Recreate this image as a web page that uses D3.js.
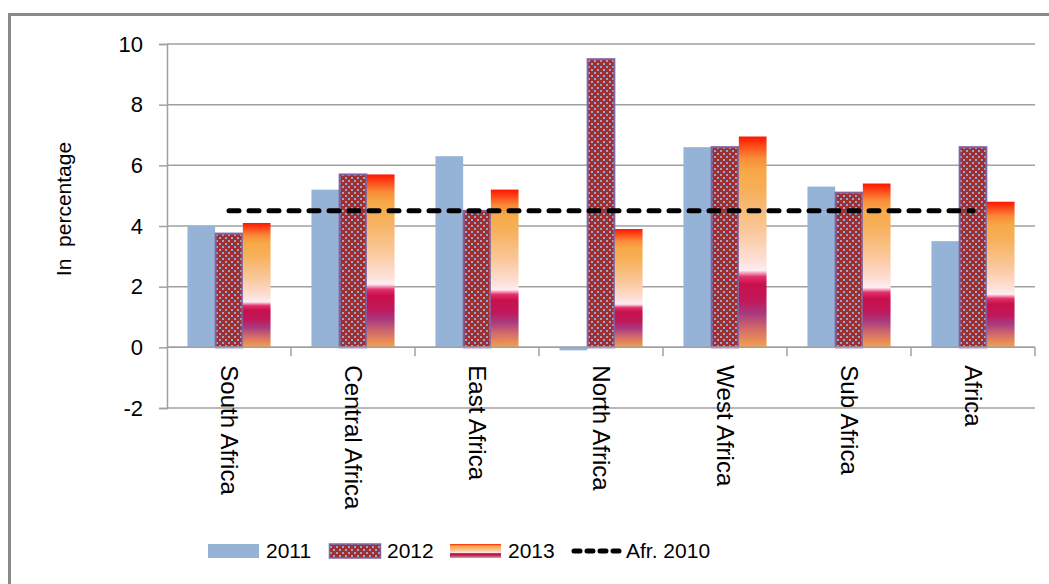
<!DOCTYPE html>
<html><head><meta charset="utf-8">
<script src="https://cdn.jsdelivr.net/npm/d3@7"></script>
<style>
body{margin:0;background:#fff}
svg{display:block}
text{font-family:"Liberation Sans",Arial,sans-serif;fill:#000}
</style>
</head><body><svg id="c" width="1049" height="584"></svg>
<script>
const categories = ["South Africa","Central Africa","East Africa","North Africa","West Africa","Sub Africa","Africa"];
const seriesNames = ["2011","2012","2013"];
const values2011 = [4.0, 5.2, 6.3, -0.1, 6.6, 5.3, 3.5];
const values2012 = [3.75, 5.7, 4.5, 9.5, 6.6, 5.1, 6.6];
const values2013 = [4.1, 5.7, 5.2, 3.9, 6.95, 5.4, 4.8];
const afr2010 = [4.5, 4.5, 4.5, 4.5, 4.5, 4.5, 4.5];
const yTicks = [-2, 0, 2, 4, 6, 8, 10];
const lineName = "Afr. 2010";
const yTitle = "In  percentage";

const svg = d3.select("#c");
const m = {left:167, right:1035, top:44, bottom:408};

// outer frame
svg.append("rect").attr("x",9.5).attr("y",14.5).attr("width",1100).attr("height",700)
  .attr("fill","#fff").attr("stroke","#8a8a8a").attr("stroke-width",3);

const defs = svg.append("defs");
const pat = defs.append("pattern").attr("id","p2012").attr("patternUnits","userSpaceOnUse")
  .attr("width",6).attr("height",6);
pat.append("rect").attr("width",6).attr("height",6).attr("fill","#a22f2f");
pat.append("rect").attr("x",0).attr("y",0).attr("width",2).attr("height",2).attr("fill","#8fa9d3");
pat.append("rect").attr("x",3).attr("y",3).attr("width",2).attr("height",2).attr("fill","#8fa9d3");

const grad = defs.append("linearGradient").attr("id","g2013")
  .attr("x1",0).attr("y1",0).attr("x2",0).attr("y2",1);
[[0,"#ff1500"],[0.1,"#f98a38"],[0.16,"#f6a946"],[0.26,"#f7b05a"],[0.45,"#fac89c"],
 [0.59,"#fde0d8"],[0.635,"#fdeef2"],[0.665,"#e4306c"],[0.70,"#c8104c"],[0.78,"#c0185a"],
 [0.84,"#a83a80"],[0.91,"#d26a6a"],[1,"#f3a24e"]].forEach(s=>{
  grad.append("stop").attr("offset",s[0]).attr("stop-color",s[1]);
});

const x = d3.scaleBand().domain(categories).range([m.left,m.right]).paddingInner(0.33).paddingOuter(0.165);
const xs = d3.scaleBand().domain(seriesNames).range([0,x.bandwidth()]);
const y = d3.scaleLinear().domain([-2,10]).range([m.bottom,m.top]);

// gridlines
svg.append("g").selectAll("line").data(yTicks).join("line")
  .attr("x1",m.left).attr("x2",m.right).attr("y1",d=>y(d)).attr("y2",d=>y(d))
  .attr("stroke","#a0a0a0").attr("stroke-width",1.5);

const fills = {"2011":"#95b3d7","2012":"url(#p2012)","2013":"url(#g2013)"};
const data = [values2011, values2012, values2013];
seriesNames.forEach((s,si)=>{
  const g = svg.append("g");
  g.selectAll("rect").data(categories).join("rect")
    .attr("x",c=>x(c)+xs(s)+(s==="2012"?0.5:0))
    .attr("width",xs.bandwidth()-(s==="2012"?1:0))
    .attr("y",(c,i)=>Math.min(y(data[si][i]),y(0)))
    .attr("height",(c,i)=>Math.abs(y(data[si][i])-y(0)))
    .attr("fill",fills[s])
    .attr("stroke",s==="2012"?"#8064a2":"none")
    .attr("stroke-width",s==="2012"?2:0);
});

// y axis
const yAxis = d3.axisLeft(y).tickValues(yTicks).tickSize(8).tickPadding(16).tickFormat(d=>String(d));
const ya = svg.append("g").attr("transform",`translate(${m.left},0)`).call(yAxis);
ya.select(".domain").attr("stroke","#a0a0a0").attr("stroke-width",1.5);
ya.selectAll(".tick line").attr("stroke","#a0a0a0").attr("stroke-width",1.5);
ya.selectAll(".tick text").attr("font-size",22).attr("fill","#000")
  .style("font-family","'Liberation Sans',Arial,sans-serif");

// x axis at zero
const xa = svg.append("g").attr("transform",`translate(0,${y(0)})`);
const bounds = d3.range(categories.length+1).map(i=>m.left + i*x.step());
xa.append("line").attr("x1",m.left).attr("x2",m.right).attr("y1",0).attr("y2",0)
  .attr("stroke","#a0a0a0").attr("stroke-width",1.5);
xa.selectAll("line.t").data(bounds.slice(1)).join("line").attr("class","t")
  .attr("x1",d=>d).attr("x2",d=>d).attr("y1",0).attr("y2",9)
  .attr("stroke","#a0a0a0").attr("stroke-width",1.5);
xa.selectAll("text").data(categories).join("text")
  .attr("transform",c=>`translate(${x(c)+x.bandwidth()/2},18) rotate(90)`)
  .attr("dy","0.35em").attr("font-size",24).text(c=>c);

// dashed line
const line = d3.line().x((d,i)=>x(categories[i])+x.bandwidth()/2).y(d=>y(d));
svg.append("path").datum(afr2010).attr("d",line).attr("fill","none")
  .attr("stroke","#000").attr("stroke-width",5).attr("stroke-linecap","round")
  .attr("stroke-dasharray","10,10");

// y title
svg.append("text").attr("transform","translate(64,209) rotate(-90)")
  .attr("text-anchor","middle").attr("dy","0.35em").attr("font-size",21)
  .style("white-space","pre").text(yTitle);

// legend
const legItems = [...seriesNames, lineName];
const lg = svg.append("g");
legItems.forEach((name,i)=>{
  const lx = 208 + i*121;
  if(i<3){
    lg.append("rect").attr("x",lx+(i===1?0.5:0)).attr("y",544).attr("width",51).attr("height",14)
      .attr("fill",fills[name]).attr("stroke",i===1?"#8064a2":"none").attr("stroke-width",i===1?1.5:0);
  } else {
    lg.append("line").attr("x1",lx+3).attr("x2",lx+51).attr("y1",551).attr("y2",551)
      .attr("stroke","#000").attr("stroke-width",5).attr("stroke-linecap","round")
      .attr("stroke-dasharray","6,7");
  }
  lg.append("text").attr("x",lx+(i<3?58:55)).attr("y",551).attr("dy","0.35em")
    .attr("font-size",21).text(name);
});
</script></body></html>
